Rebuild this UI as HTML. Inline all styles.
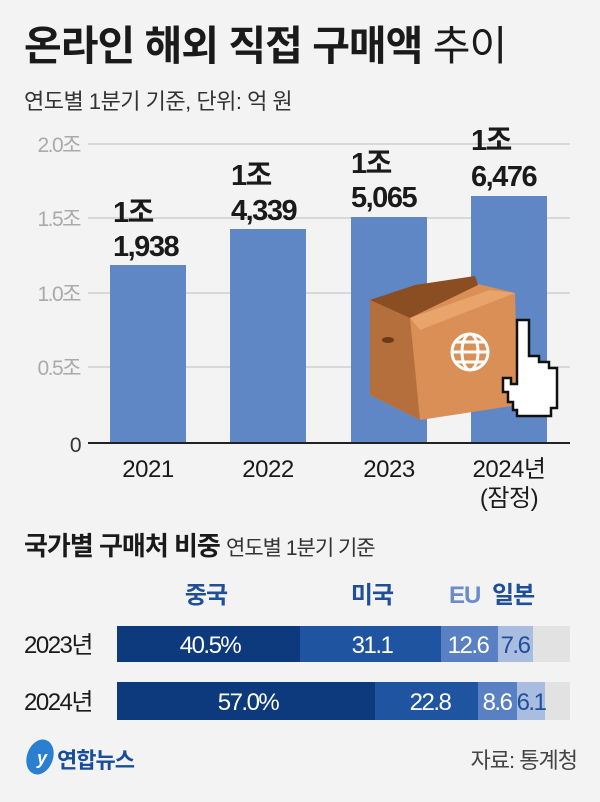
<!DOCTYPE html>
<html><head><meta charset="utf-8"><style>
body{margin:0;width:600px;height:802px;background:#f3f3f3;font-family:"Liberation Sans","Noto Sans CJK KR",sans-serif;overflow:hidden;position:relative}
.a{position:absolute;white-space:nowrap}
</style></head><body>
<div class="a" style="left:24px;top:12px;font-size:41px;font-weight:bold;color:#1a1a1a;letter-spacing:-1px">온라인 해외 직접 구매액 <span style="font-weight:normal">추이</span></div>
<div class="a" style="left:24px;top:84px;font-size:22px;color:#333;letter-spacing:-0.5px">연도별 1분기 기준, 단위: 억 원</div>
<svg class="a" style="left:0;top:0" width="600" height="802">
<g stroke="#d0d0d0" stroke-width="1.5">
<line x1="88" y1="144" x2="570" y2="144"/><line x1="88" y1="218" x2="570" y2="218"/>
<line x1="88" y1="293" x2="570" y2="293"/><line x1="88" y1="367" x2="570" y2="367"/>
</g>
<g fill="#5f87c6">
<rect x="110" y="265" width="76" height="177"/><rect x="230" y="229" width="76" height="213"/>
<rect x="351" y="217" width="76" height="225"/><rect x="471" y="196" width="76" height="246"/>
</g>
<line x1="88" y1="443" x2="570" y2="443" stroke="#222" stroke-width="2"/>
<g font-size="21" fill="#aaa" text-anchor="end" letter-spacing="-1.5">
<text x="80" y="152">2.0조</text><text x="80" y="226">1.5조</text><text x="80" y="301">1.0조</text><text x="80" y="375">0.5조</text><text x="80" y="452" fill="#333">0</text>
</g>
<g font-size="29" font-weight="bold" fill="#1a1a1a" letter-spacing="-1.5">
<text x="113" y="222">1조</text><text x="113" y="256">1,938</text>
<text x="231" y="185">1조</text><text x="231" y="220">4,339</text>
<text x="351" y="173">1조</text><text x="351" y="207">5,065</text>
<text x="471" y="150">1조</text><text x="471" y="186">6,476</text>
</g>
<g font-size="24" fill="#1a1a1a" text-anchor="middle" letter-spacing="-0.5">
<text x="148" y="477">2021</text><text x="268" y="477">2022</text><text x="389" y="477">2023</text><text x="509" y="477">2024년</text><text x="509" y="506">(잠정)</text>
</g>
<!-- box -->
<polygon points="370,300 470,282 515,293 518,405 420,420 370,395" fill="#d98f56"/>
<polygon points="370,300 410,318 420,420 370,395" fill="#b56f3d"/>
<polygon points="370,300 415,285 475,276 478,285 410,318" fill="#8a4e22"/>
<polygon points="410,318 490,290 515,293 420,330" fill="#e8a46a"/>
<ellipse cx="388" cy="340" rx="6" ry="3" fill="#6a3a18"/>
<g stroke="#fff" stroke-width="3" fill="none"><circle cx="470" cy="352" r="18"/><ellipse cx="470" cy="352" rx="8" ry="18"/><line x1="452" y1="352" x2="488" y2="352"/><line x1="455" y1="342" x2="485" y2="342"/><line x1="455" y1="362" x2="485" y2="362"/></g>
<path d="M523,320 h6 v36 h10 v6 h10 v6 h8 v40 h-6 v8 h-34 v-6 h-4 v-8 h-5 v-10 h-5 v-14 h8 v6 h6 v-64 z" fill="#fff" stroke="#111" stroke-width="2.5"/>
<!-- bottom -->
<g>
<rect x="117" y="626" width="183" height="36" fill="#0d3a7d"/><rect x="300" y="626" width="141" height="36" fill="#1f54a0"/>
<rect x="441" y="626" width="57" height="36" fill="#5a80c4"/><rect x="498" y="626" width="35" height="36" fill="#a8bde0"/><rect x="533" y="626" width="37" height="36" fill="#e2e2e2"/>
<rect x="117" y="682" width="258" height="38" fill="#0d3a7d"/><rect x="375" y="682" width="103" height="38" fill="#1f54a0"/>
<rect x="478" y="682" width="39" height="38" fill="#5a80c4"/><rect x="517" y="682" width="28" height="38" fill="#a8bde0"/><rect x="545" y="682" width="25" height="38" fill="#e2e2e2"/>
</g>
<g font-size="24" fill="#fff" text-anchor="middle" letter-spacing="-1.5">
<text x="210" y="653">40.5%</text><text x="372" y="653">31.1</text><text x="468" y="653">12.6</text><text x="515" y="653" fill="#1f4f98">7.6</text>
<text x="248" y="710">57.0%</text><text x="430" y="710">22.8</text><text x="497" y="710">8.6</text><text x="531" y="710" fill="#1f4f98">6.1</text>
</g>
<g font-size="24" fill="#1a1a1a" letter-spacing="-1.5">
<text x="24" y="653">2023년</text><text x="24" y="710">2024년</text>
</g>
<g font-size="24" font-weight="bold" letter-spacing="-1">
<text x="206" y="603" fill="#1f4f98" text-anchor="middle">중국</text><text x="372" y="603" fill="#1f4f98" text-anchor="middle">미국</text>
<text x="449" y="603" fill="#6a8ccc">EU</text><text x="492" y="603" fill="#1f4f98">일본</text>
</g>
<ellipse cx="40" cy="757" rx="13" ry="18" fill="#2a7fd0" transform="rotate(20 40 757)"/>
<text x="37" y="764" font-size="18" fill="#fff" font-style="italic" font-weight="bold">y</text>
<text x="57" y="768" font-size="22" font-weight="bold" fill="#1a4c9c" letter-spacing="-1">연합뉴스</text>
<text x="577" y="768" font-size="22" fill="#444" text-anchor="end" letter-spacing="-1">자료: 통계청</text>
</svg>
<div class="a" style="left:24px;top:526px;font-size:26px;font-weight:bold;color:#1a1a1a;letter-spacing:-1px">국가별 구매처 비중 <span style="font-weight:normal;font-size:21px;color:#333">연도별 1분기 기준</span></div>
</body></html>
